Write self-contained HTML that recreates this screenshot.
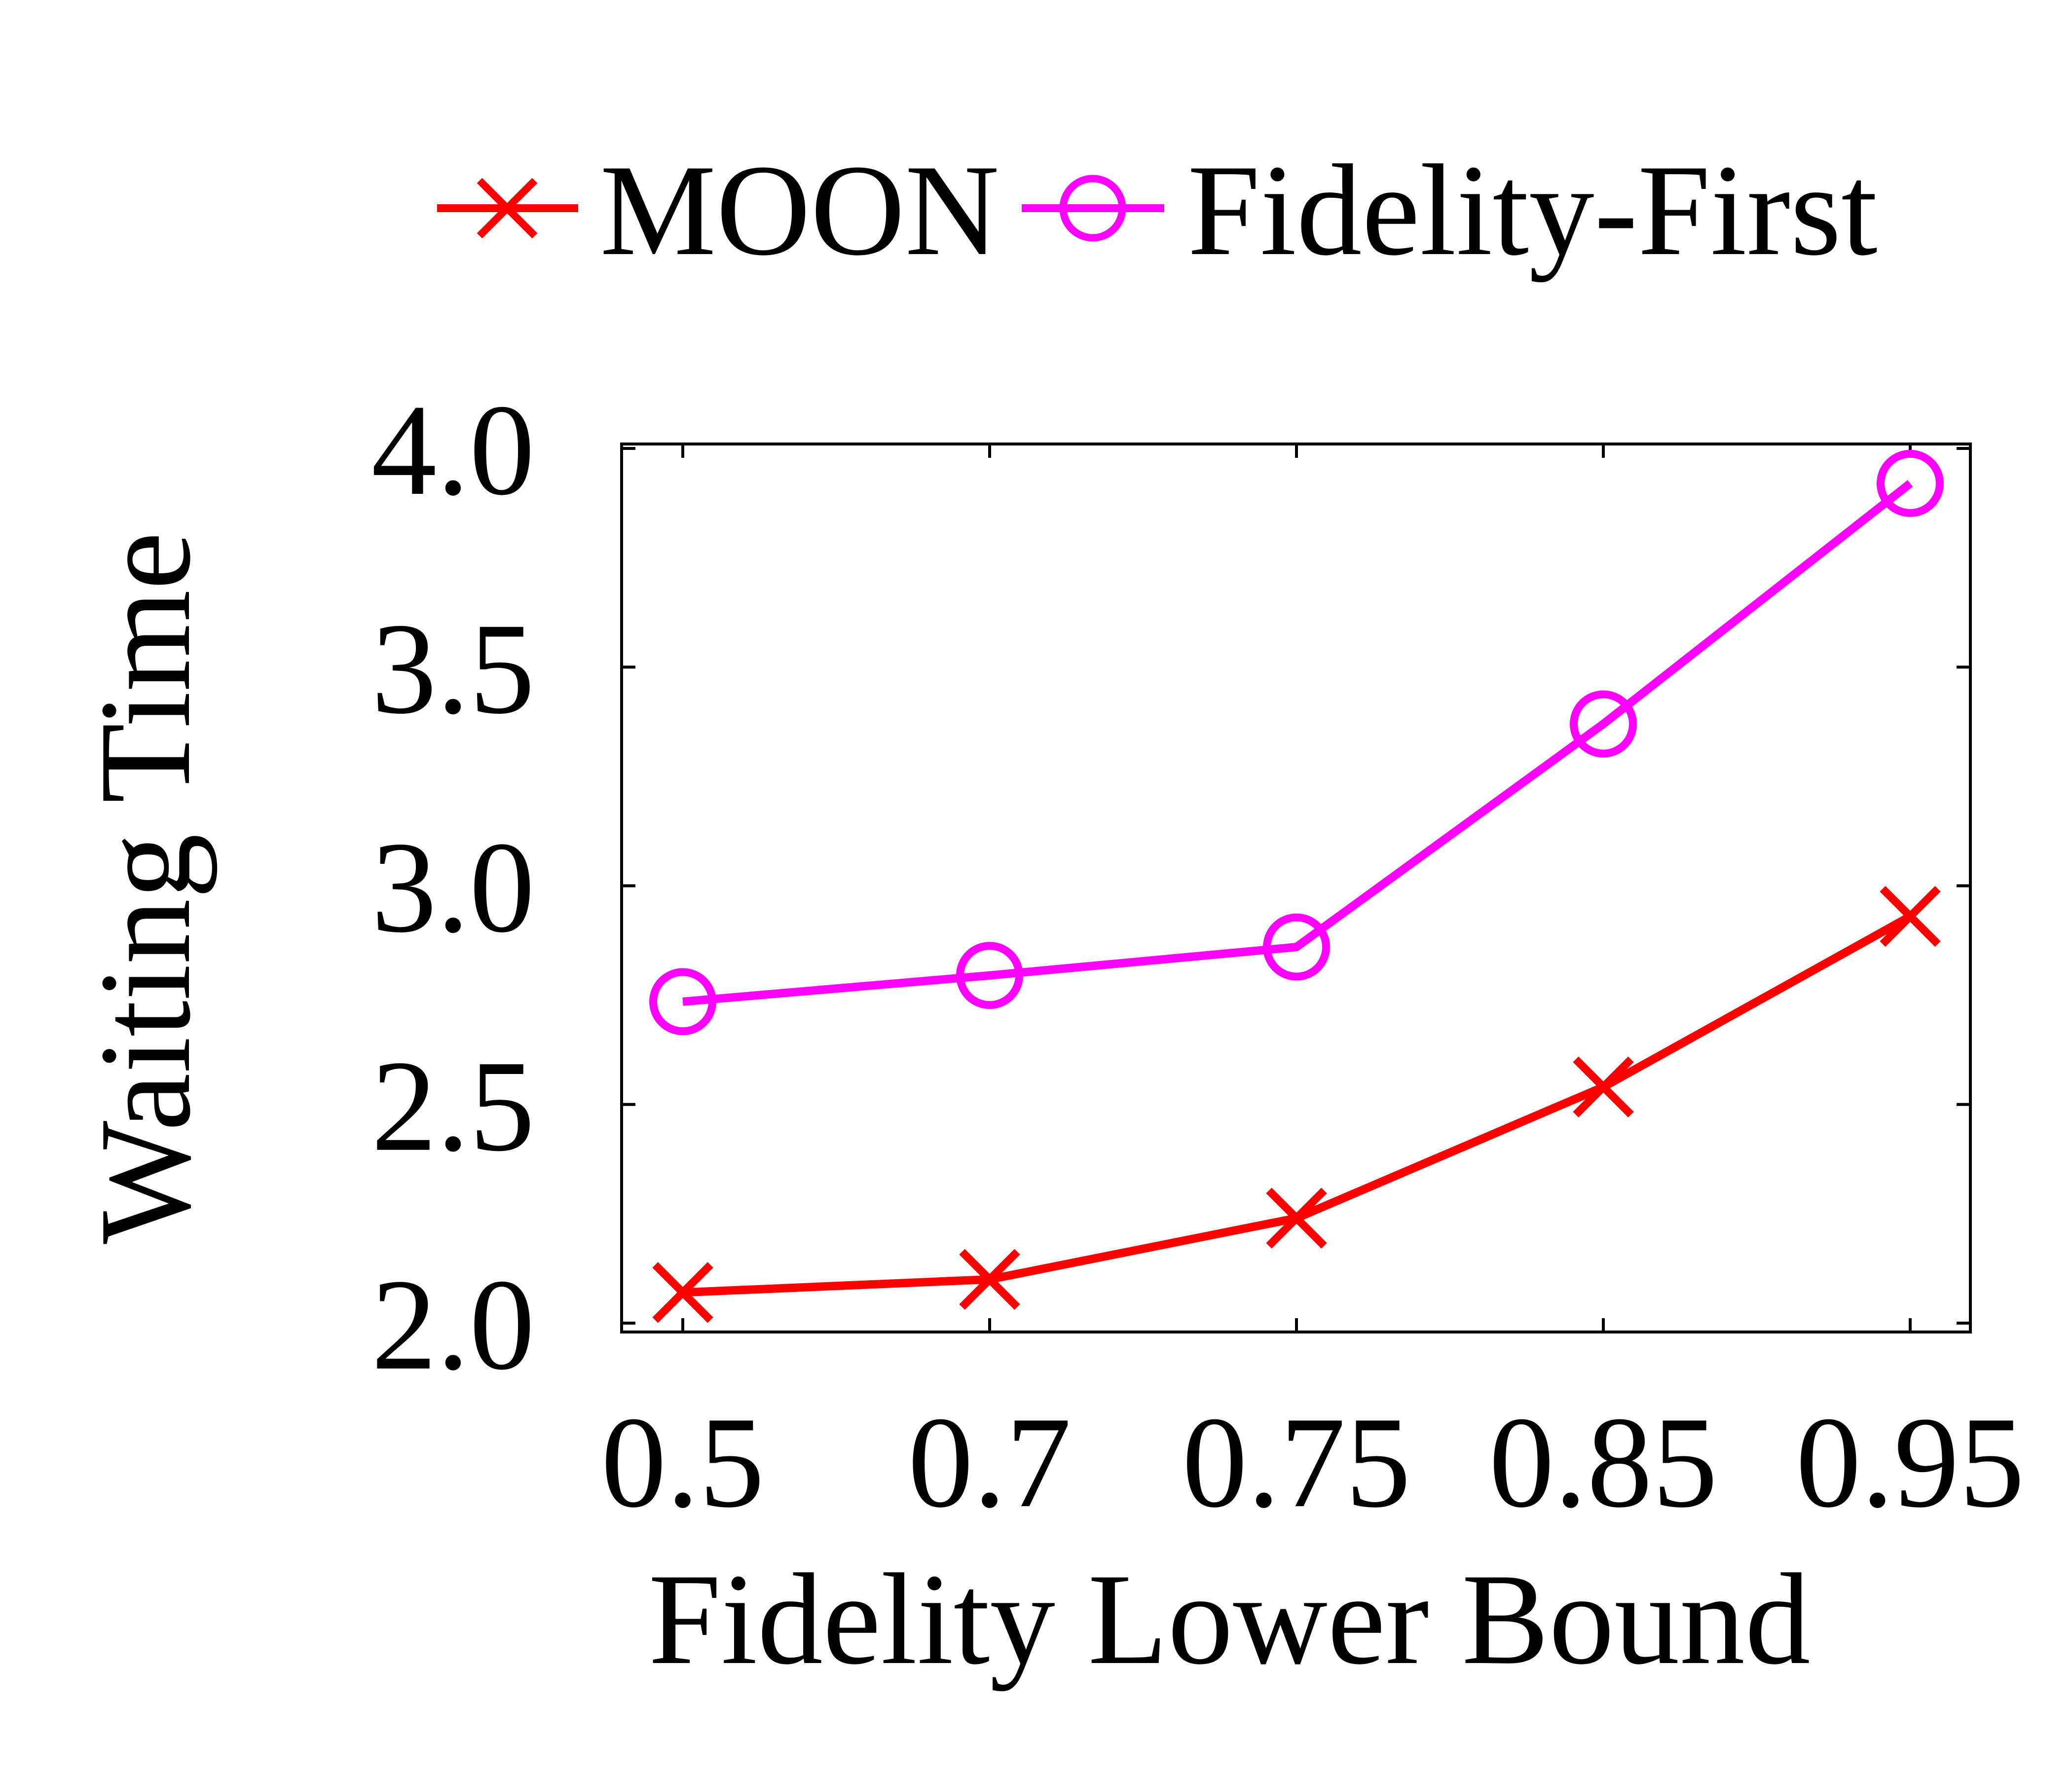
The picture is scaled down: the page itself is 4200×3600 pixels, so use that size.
<!DOCTYPE html>
<html><head><meta charset="utf-8"><style>
html,body{margin:0;padding:0;background:#fff;}
svg{display:block;}
text{font-family:"Liberation Serif","Times New Roman",serif;fill:#000;}
</style></head><body>
<svg id="chart" width="4200" height="3600" viewBox="0 0 4200 3600" xmlns="http://www.w3.org/2000/svg">
<rect x="0" y="0" width="4200" height="3600" fill="#fff"/>
<g id="legend">
  <g>
    <line x1="886" y1="422" x2="1172" y2="422" stroke="#ff0000" stroke-width="16"/>
    <path d="M972,366 L1084,478 M1084,366 L972,478" stroke="#ff0000" stroke-width="15" fill="none"/>
    <text x="1216" y="515" font-size="265">MOON</text>
  </g>
  <g>
    <line x1="2071" y1="422" x2="2360" y2="422" stroke="#ff00ff" stroke-width="16"/>
    <circle cx="2215" cy="422" r="60" stroke="#ff00ff" stroke-width="15" fill="none"/>
    <text x="2407" y="515" font-size="265">Fidelity-First</text>
  </g>
</g>
<g id="axes"></g>
<g id="series"></g>
<text x="383" y="1800" font-size="265" text-anchor="middle" transform="rotate(-90 383 1800)">Waiting Time</text>
<text x="2492" y="3371" font-size="265" text-anchor="middle">Fidelity Lower Bound</text>
</svg>
<script>
const categories = ["0.5","0.7","0.75","0.85","0.95"];
const moonValues = [2.07, 2.10, 2.24, 2.54, 2.93];
const fidelityFirstValues = [2.735, 2.795, 2.86, 3.37, 3.92];
const yTicks = [2.0, 2.5, 3.0, 3.5, 4.0];
const yTickLabels = ["2.0","2.5","3.0","3.5","4.0"];

const NS = "http://www.w3.org/2000/svg";
const frame = {left:1260, right:3994, top:900, bottom:2700};
const xFirst = 1384, xStep = 622;
function xScale(i){ return xFirst + i * xStep; }
function yScale(v){ return 2682 - (v - 2.0) * 886.5; }

function mk(tag, attrs, parent){
  const el = document.createElementNS(NS, tag);
  for (const k in attrs) el.setAttribute(k, attrs[k]);
  parent.appendChild(el);
  return el;
}
const axes = document.getElementById('axes');
const series = document.getElementById('series');

const fr = mk('rect', {x:frame.left, y:frame.top, width:frame.right-frame.left, height:frame.bottom-frame.top, fill:'none', stroke:'#000', 'stroke-width':6}, axes);



yTicks.forEach((v, i) => {
  const y = yScale(v);
  const t1 = mk('line', {x1:frame.left, y1:y, x2:frame.left+28, y2:y, stroke:'#000', 'stroke-width':6}, axes);
  
  
  const t2 = mk('line', {x1:frame.right-28, y1:y, x2:frame.right, y2:y, stroke:'#000', 'stroke-width':6}, axes);
  
  
  const lb = mk('text', {x:1084, y:y+92, 'font-size':265, 'text-anchor':'end'}, axes);
  lb.textContent = yTickLabels[i];
  
  
});

categories.forEach((c, i) => {
  const x = xScale(i);
  const t1 = mk('line', {x1:x, y1:frame.bottom, x2:x, y2:frame.bottom-28, stroke:'#000', 'stroke-width':6}, axes);
  
  
  const t2 = mk('line', {x1:x, y1:frame.top, x2:x, y2:frame.top+28, stroke:'#000', 'stroke-width':6}, axes);
  
  
  const lb = mk('text', {x:x, y:3053, 'font-size':265, 'text-anchor':'middle'}, axes);
  lb.textContent = c;
  
  
});

const ffPts = fidelityFirstValues.map((v,i)=>xScale(i)+','+yScale(v)).join(' ');
const ffLine = mk('polyline', {points:ffPts, fill:'none', stroke:'#ff00ff', 'stroke-width':17, 'stroke-linejoin':'round'}, series);


fidelityFirstValues.forEach((v,i) => {
  const c = mk('circle', {cx:xScale(i), cy:yScale(v), r:60, fill:'none', stroke:'#ff00ff', 'stroke-width':16}, series);
  
  
});

const mPts = moonValues.map((v,i)=>xScale(i)+','+yScale(v)).join(' ');
const mLine = mk('polyline', {points:mPts, fill:'none', stroke:'#ff0000', 'stroke-width':17, 'stroke-linejoin':'round'}, series);


moonValues.forEach((v,i) => {
  const x = xScale(i), y = yScale(v), s = 56;
  const p = mk('path', {d:`M${x-s},${y-s} L${x+s},${y+s} M${x+s},${y-s} L${x-s},${y+s}`, stroke:'#ff0000', 'stroke-width':16, fill:'none'}, series);
  
  
});
</script>
</body></html>
